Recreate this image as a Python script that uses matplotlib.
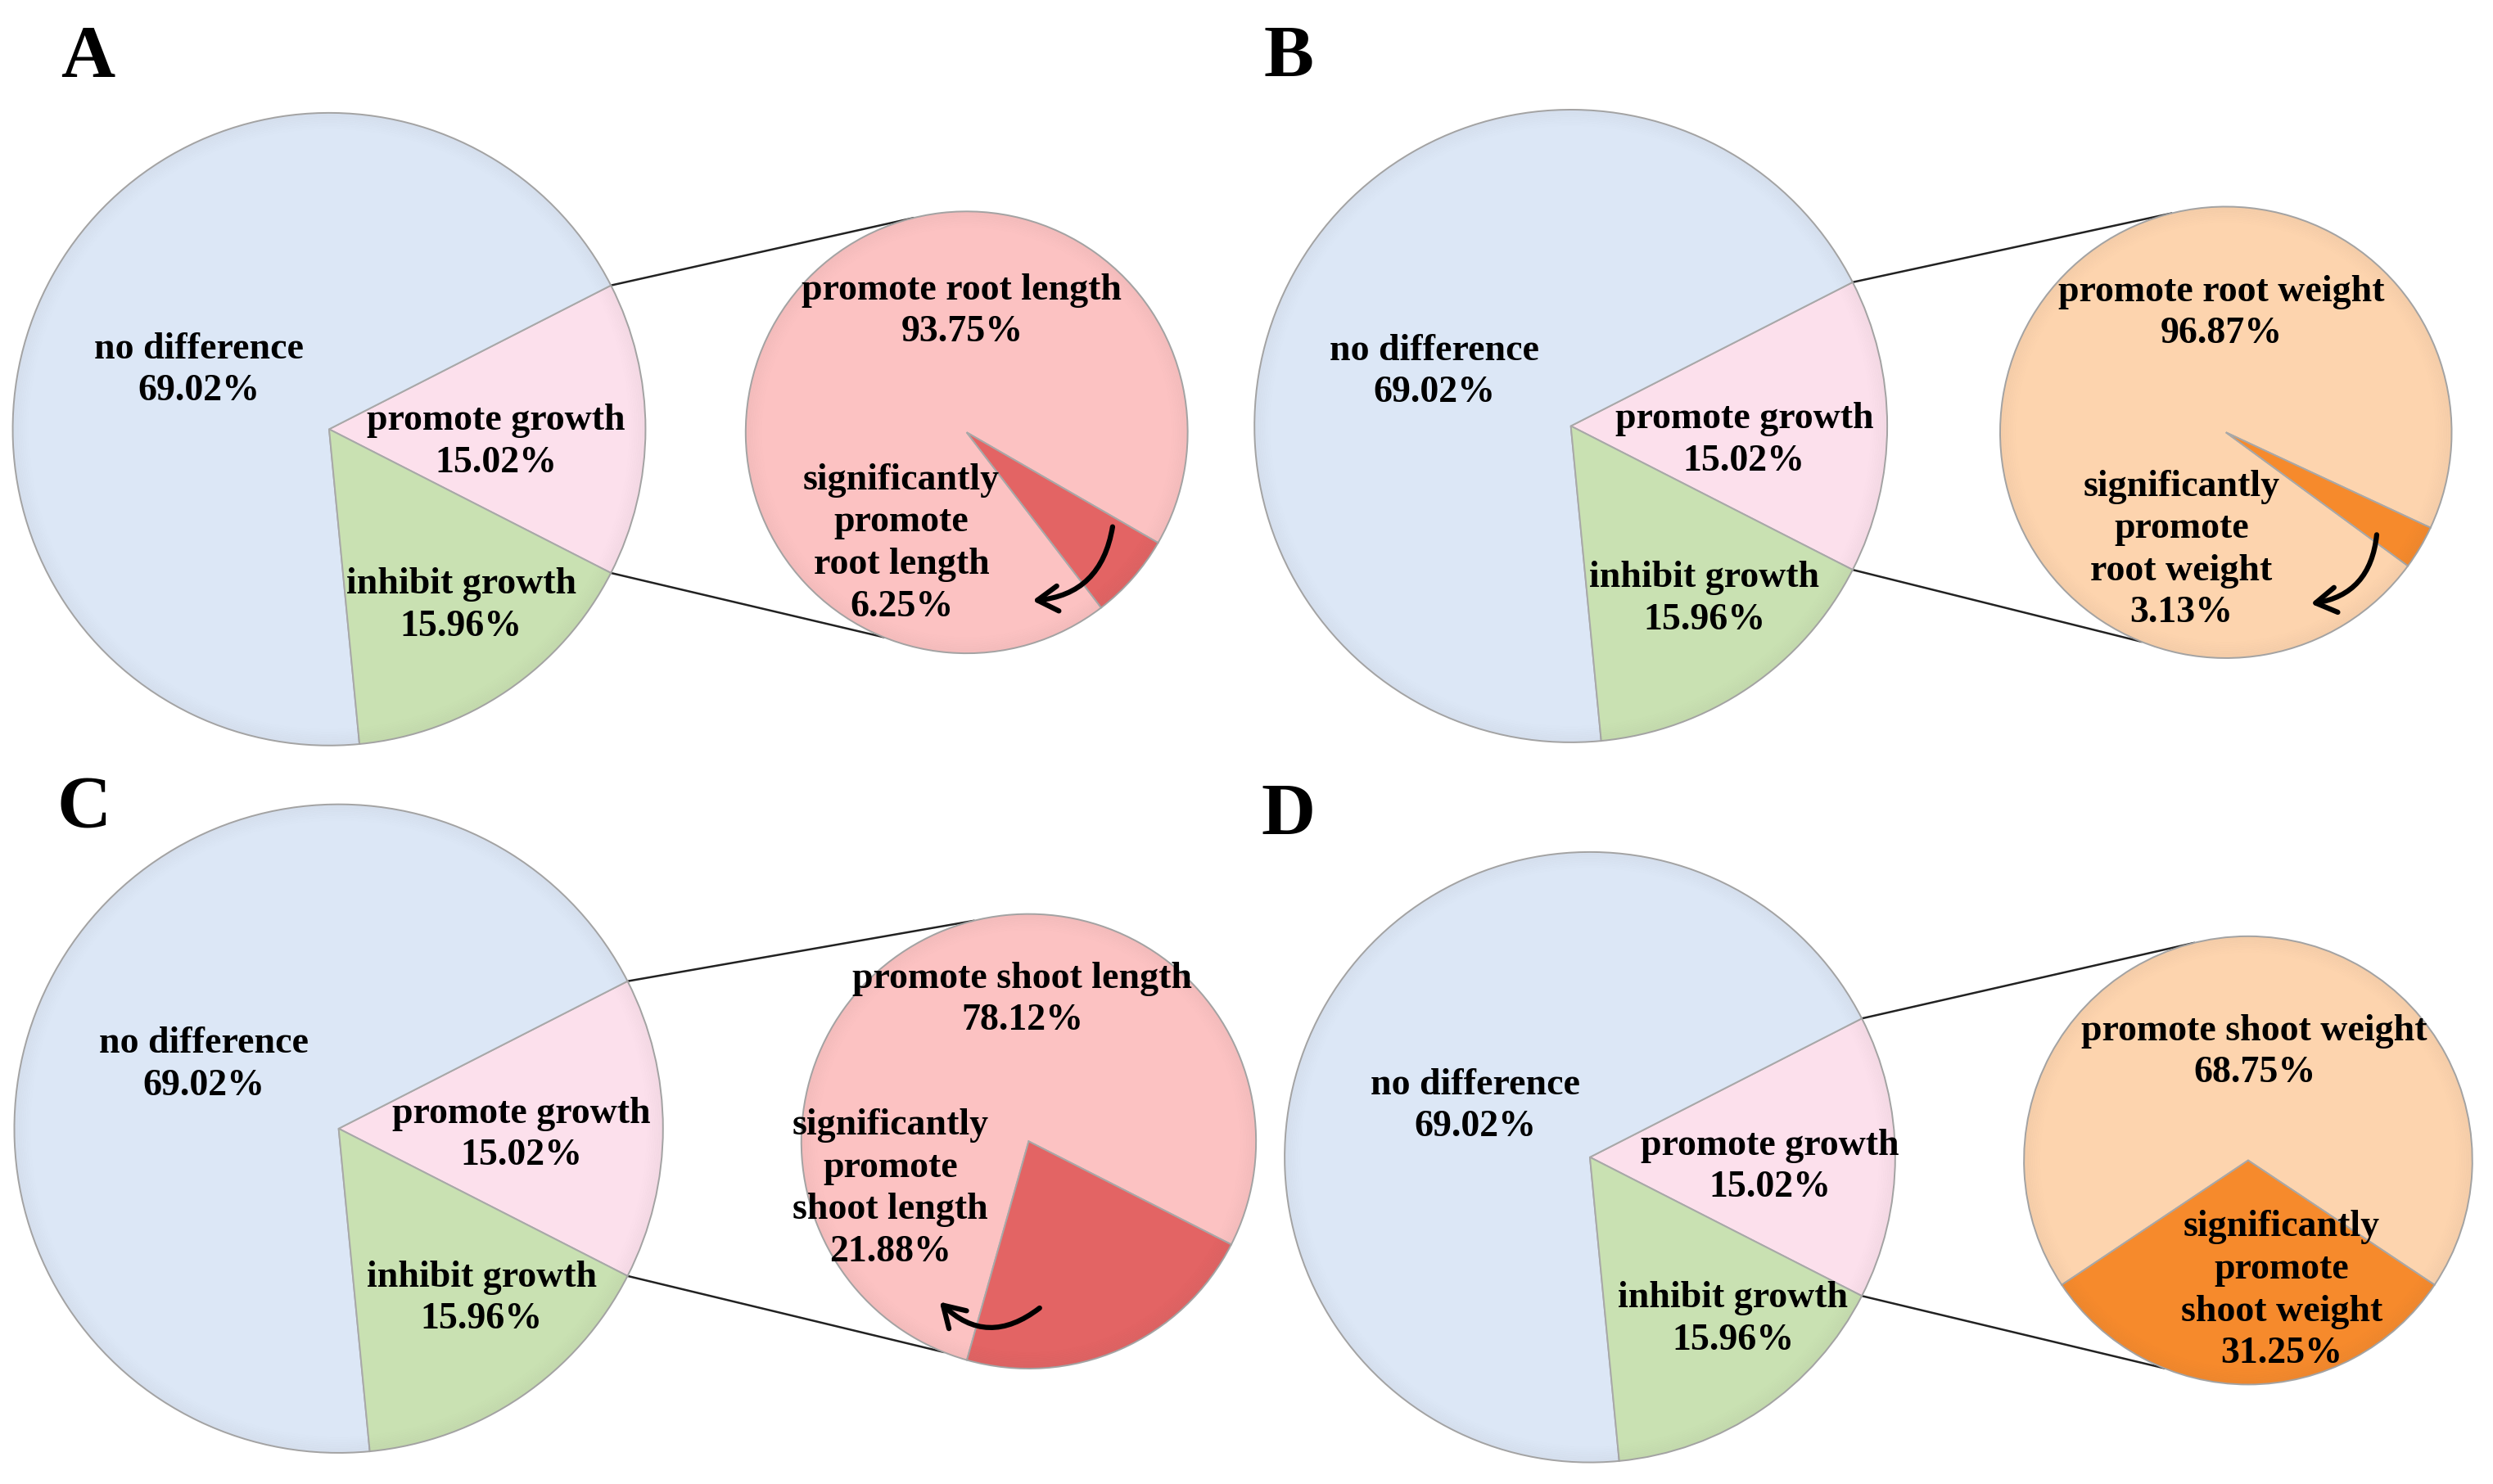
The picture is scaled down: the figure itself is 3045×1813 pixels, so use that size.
import matplotlib
matplotlib.use("Agg")
import matplotlib.pyplot as plt
import numpy as np
from matplotlib.patches import FancyArrowPatch, Circle

# ---------------- data ----------------
panel_letters = ["A", "B", "C", "D"]
main_labels = ["promote growth", "no difference", "inhibit growth"]
main_values = [15.02, 69.02, 15.96]
main_colors = ["#FCE0EC", "#DCE7F6", "#C9E1B2"]

sub_big_labels = ["promote root length", "promote root weight",
                  "promote shoot length", "promote shoot weight"]
sub_small_labels = ["significantly\npromote\nroot length",
                    "significantly\npromote\nroot weight",
                    "significantly\npromote\nshoot length",
                    "significantly\npromote\nshoot weight"]
sub_big_values = [93.75, 96.87, 78.12, 68.75]
sub_small_values = [6.25, 3.13, 21.88, 31.25]
sub_light_colors = ["#FCC2C2", "#FDD4AE", "#FCC2C2", "#FDD4AE"]
sub_dark_colors = ["#E36464", "#F68A2C", "#E36464", "#F68A2C"]

# ---------------- layout (pixel units of the figure, y up) ----------------
W, H = 3045, 1813
S = 3045 / 1568.0  # layout measured on a 1568-wide view


def P(x, y):
    return (x * S, H - y * S)


main_centers = [P(207, 270), P(988, 268), P(213, 710), P(1000, 728)]
main_radii = [199 * S, 199 * S, 204 * S, 192 * S]
sub_centers = [P(608, 272), P(1400, 272), P(647, 718), P(1414, 730)]
sub_radii = [139 * S, 142 * S, 143 * S, 141 * S]
sub_start = [-30, -25, -27, -33.75]
letter_pos = [P(38, 16), P(795, 16), P(36, 488), P(793, 493)]

main_text_pos = [
    [P(312, 278), P(125, 233), P(290, 381)],
    [P(1097, 277), P(902, 234), P(1072, 377)],
    [P(328, 714), P(128, 670), P(303, 817)],
    [P(1113, 734), P(928, 696), P(1090, 830)],
]
sub_big_text_pos = [P(605, 196), P(1397, 197), P(643, 629), P(1418, 662)]
sub_small_text_pos = [P(567, 342), P(1372, 346), P(560, 748), P(1435, 812)]
arrows = [
    (P(700, 330), P(648, 378), -0.4),
    (P(1495, 335), P(1452, 380), -0.4),
    (P(655, 822), P(590, 818), -0.45),
    None,
]

FONT = ["Liberation Serif", "DejaVu Serif"]
FS = 33
LS = 1.3
plt.rcParams["font.family"] = FONT

fig = plt.figure(figsize=(W / 100, H / 100), dpi=100)
ax = fig.add_axes([0, 0, 1, 1])

edge = dict(edgecolor="#A8A8A8", linewidth=1.4)


def rim(center, radius):
    # soft darker rim imitating the bevel of the original
    n = 14
    for k in range(n):
        a = 0.05 * (1 - k / n) ** 1.5
        ax.add_patch(Circle(center, radius - k * 1.6, fill=False,
                            edgecolor=(0.35, 0.3, 0.3, a), lw=1.3, zorder=2))


for i in range(4):
    c, r = main_centers[i], main_radii[i]
    start = -main_values[0] * 3.6 / 2
    ax.pie(main_values, colors=main_colors, startangle=start, counterclock=True,
           center=c, radius=r, wedgeprops=edge, frame=True)
    rim(c, r)
    # inset pie
    sc, sr = sub_centers[i], sub_radii[i]
    ax.pie([sub_big_values[i], sub_small_values[i]],
           colors=[sub_light_colors[i], sub_dark_colors[i]],
           startangle=sub_start[i], counterclock=True,
           center=sc, radius=sr, wedgeprops=edge, frame=True)
    rim(sc, sr)

    # connector lines from the edges of the "promote growth" wedge
    a_top = np.deg2rad(start + main_values[0] * 3.6)
    a_bot = np.deg2rad(start)
    p1 = (c[0] + r * np.cos(a_top), c[1] + r * np.sin(a_top))
    p2 = (c[0] + r * np.cos(a_bot), c[1] + r * np.sin(a_bot))
    t1 = np.deg2rad(104)
    t2 = np.deg2rad(-112)
    q1 = (sc[0] + sr * np.cos(t1), sc[1] + sr * np.sin(t1))
    q2 = (sc[0] + sr * np.cos(t2), sc[1] + sr * np.sin(t2))
    ax.plot([p1[0], q1[0]], [p1[1], q1[1]], color="#222222", lw=1.8, zorder=0.5)
    ax.plot([p2[0], q2[0]], [p2[1], q2[1]], color="#222222", lw=1.8, zorder=0.5)

    # texts
    for lab, val, pos in zip(main_labels, main_values, main_text_pos[i]):
        ax.text(pos[0], pos[1], f"{lab}\n{val:.2f}%", ha="center", va="center",
                fontsize=FS, fontweight="bold", linespacing=LS, zorder=5)
    pos = sub_big_text_pos[i]
    ax.text(pos[0], pos[1], f"{sub_big_labels[i]}\n{sub_big_values[i]:.2f}%",
            ha="center", va="center", fontsize=FS, fontweight="bold",
            linespacing=LS, zorder=5)
    pos = sub_small_text_pos[i]
    ax.text(pos[0], pos[1], f"{sub_small_labels[i]}\n{sub_small_values[i]:.2f}%",
            ha="center", va="center", fontsize=FS, fontweight="bold",
            linespacing=LS, zorder=5)

    lp = letter_pos[i]
    ax.text(lp[0], lp[1], panel_letters[i], ha="left", va="top",
            fontsize=66, fontweight="bold", zorder=5)

    if arrows[i] is not None:
        a0, a1, rad = arrows[i]
        ax.add_patch(FancyArrowPatch(a0, a1, connectionstyle=f"arc3,rad={rad}",
                                     arrowstyle="->,head_length=0.9,head_width=0.55",
                                     color="black", lw=4.5, mutation_scale=20,
                                     zorder=6))

ax.set_xlim(0, W)
ax.set_ylim(0, H)
ax.set_aspect("equal")
ax.axis("off")
fig.savefig("out.png", dpi=100)
